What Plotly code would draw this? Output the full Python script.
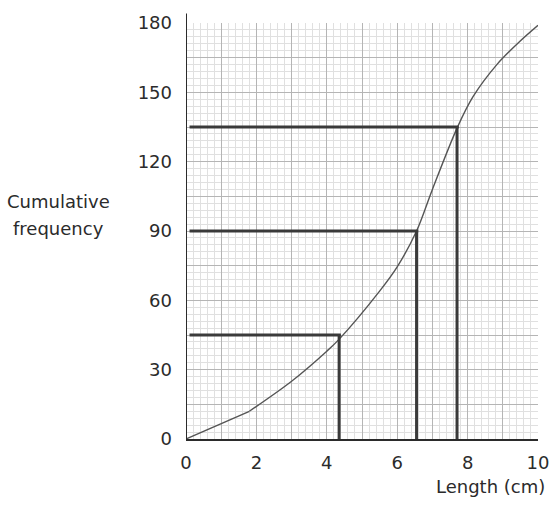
import plotly.graph_objects as go

# Data
curve_x = [0, 1.8, 3.0, 4.0, 4.34, 5.5, 6.0, 6.55, 7.0, 7.7, 8.15, 8.83, 9.48, 10.0]
curve_y = [0, 12, 25, 38, 43, 64, 74.5, 90, 108, 134.5, 148, 162, 172, 179]
quartile_x = [4.35, 6.55, 7.7]
quartile_y = [45, 90, 135]
x_ticks = [0, 1, 2, 3, 4, 5, 6, 7, 8, 9, 10]
x_labels = ["0", "", "2", "", "4", "", "6", "", "8", "", "10"]
y_ticks = [0, 15, 30, 45, 60, 75, 90, 105, 120, 135, 150, 165, 180]
y_labels = ["0", "", "30", "", "60", "", "90", "", "120", "", "150", "", "180"]

FONT = "DejaVu Sans"
INK = "#2b2b2b"
LINE = "#3a3a3a"

fig = go.Figure()

# straight first segment, then smooth curve
fig.add_trace(go.Scatter(x=curve_x[:2], y=curve_y[:2], mode="lines",
                         line=dict(color="#555", width=1.4), hoverinfo="skip"))
fig.add_trace(go.Scatter(x=curve_x[1:], y=curve_y[1:], mode="lines",
                         line=dict(color="#555", width=1.4, shape="spline", smoothing=0.9),
                         hoverinfo="skip"))

# quartile reading lines
for qx, qy in zip(quartile_x, quartile_y):
    fig.add_trace(go.Scatter(x=[0.1, qx + 0.05], y=[qy, qy], mode="lines",
                             line=dict(color=LINE, width=3), hoverinfo="skip"))
    fig.add_trace(go.Scatter(x=[qx, qx], y=[qy, 0], mode="lines",
                             line=dict(color=LINE, width=3), hoverinfo="skip"))

# y axis line extending above the grid
fig.add_shape(type="line", xref="x", yref="paper", x0=0, x1=0, y0=0, y1=1.023,
              line=dict(color=INK, width=2))

fig.add_annotation(text="Cumulative", xref="paper", yref="paper",
                   x=-0.361, y=0.571, xanchor="center", yanchor="middle",
                   showarrow=False, font=dict(family=FONT, size=18, color=INK))
fig.add_annotation(text="frequency", xref="paper", yref="paper",
                   x=-0.361, y=0.505, xanchor="center", yanchor="middle",
                   showarrow=False, font=dict(family=FONT, size=18, color=INK))
fig.add_annotation(text="Length (cm)", xref="paper", yref="paper",
                   x=1.0256, y=-0.114, xanchor="right", yanchor="middle",
                   showarrow=False, font=dict(family=FONT, size=18, color=INK))

fig.update_layout(
    width=565, height=505, autosize=False,
    margin=dict(l=186, r=27, t=19, b=66),
    paper_bgcolor="white", plot_bgcolor="white",
    showlegend=False,
    font=dict(family=FONT, size=18, color=INK),
    xaxis=dict(range=[0, 10], tickmode="array", tickvals=x_ticks, ticktext=x_labels,
               showgrid=True, gridcolor="#b5b5b5", gridwidth=1,
               minor=dict(dtick=0.2, showgrid=True, gridcolor="#e0e0e0", gridwidth=1),
               showline=True, linecolor=INK, linewidth=2,
               zeroline=False, ticks="", ticklabelstandoff=6, fixedrange=True),
    yaxis=dict(range=[0, 180], tickmode="array", tickvals=y_ticks, ticktext=y_labels,
               showgrid=True, gridcolor="#b5b5b5", gridwidth=1,
               minor=dict(dtick=3, showgrid=True, gridcolor="#e0e0e0", gridwidth=1),
               showline=False, zeroline=False, ticks="", ticklabelstandoff=13,
               fixedrange=True),
)

fig.write_html("out.html",
               config={"responsive": False, "displayModeBar": False, "staticPlot": True},
               post_script="document.body.style.margin='0';document.body.style.overflow='hidden';")
